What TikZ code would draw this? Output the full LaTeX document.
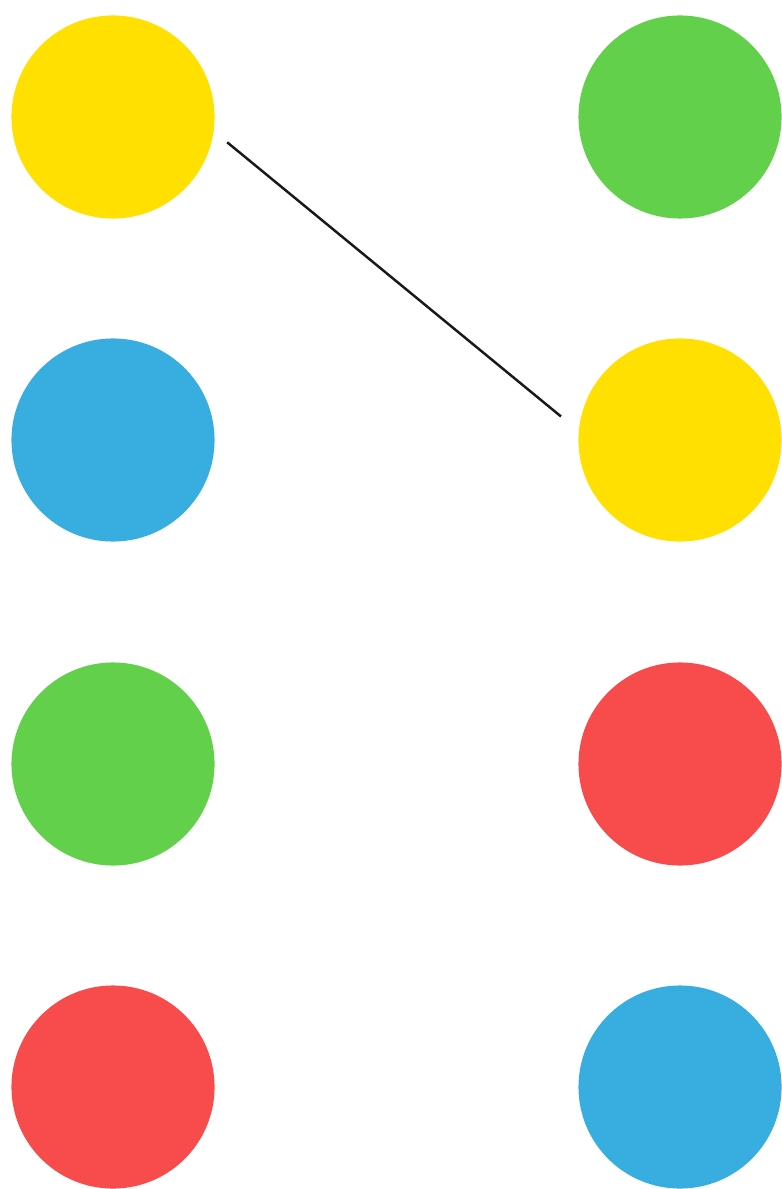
\documentclass[tikz,border=0pt]{standalone}
\usepackage{xcolor}
\usepackage{tikz}
\usetikzlibrary{calc}

\definecolor{dotyellow}{HTML}{FFE000}
\definecolor{dotgreen}{HTML}{62D04B}
\definecolor{dotblue}{HTML}{38AEE0}
\definecolor{dotred}{HTML}{F84B4B}

\begin{document}
\begin{tikzpicture}[x=0.01cm, y=-0.01cm,
  dot/.style={circle, inner sep=0pt, outer sep=0pt, minimum size=2.03cm},
  link/.style={line width=0.7pt, draw=black!90}
]
  \useasboundingbox (0,0) rectangle (781,1189);

  % left column
  \foreach \y/\c/\n in {117/dotyellow/l1, 440/dotblue/l2, 764/dotgreen/l3, 1087/dotred/l4}
    \node[dot, fill=\c] (\n) at (113,\y) {};

  % right column
  \foreach \y/\c/\n in {117/dotgreen/r1, 440/dotyellow/r2, 764/dotred/r3, 1087/dotblue/r4}
    \node[dot, fill=\c] (\n) at (680,\y) {};

  \draw[link, shorten <=0.176cm, shorten >=0.231cm] (l1.-8.4) -- (r2.175.25);
\end{tikzpicture}
\end{document}
